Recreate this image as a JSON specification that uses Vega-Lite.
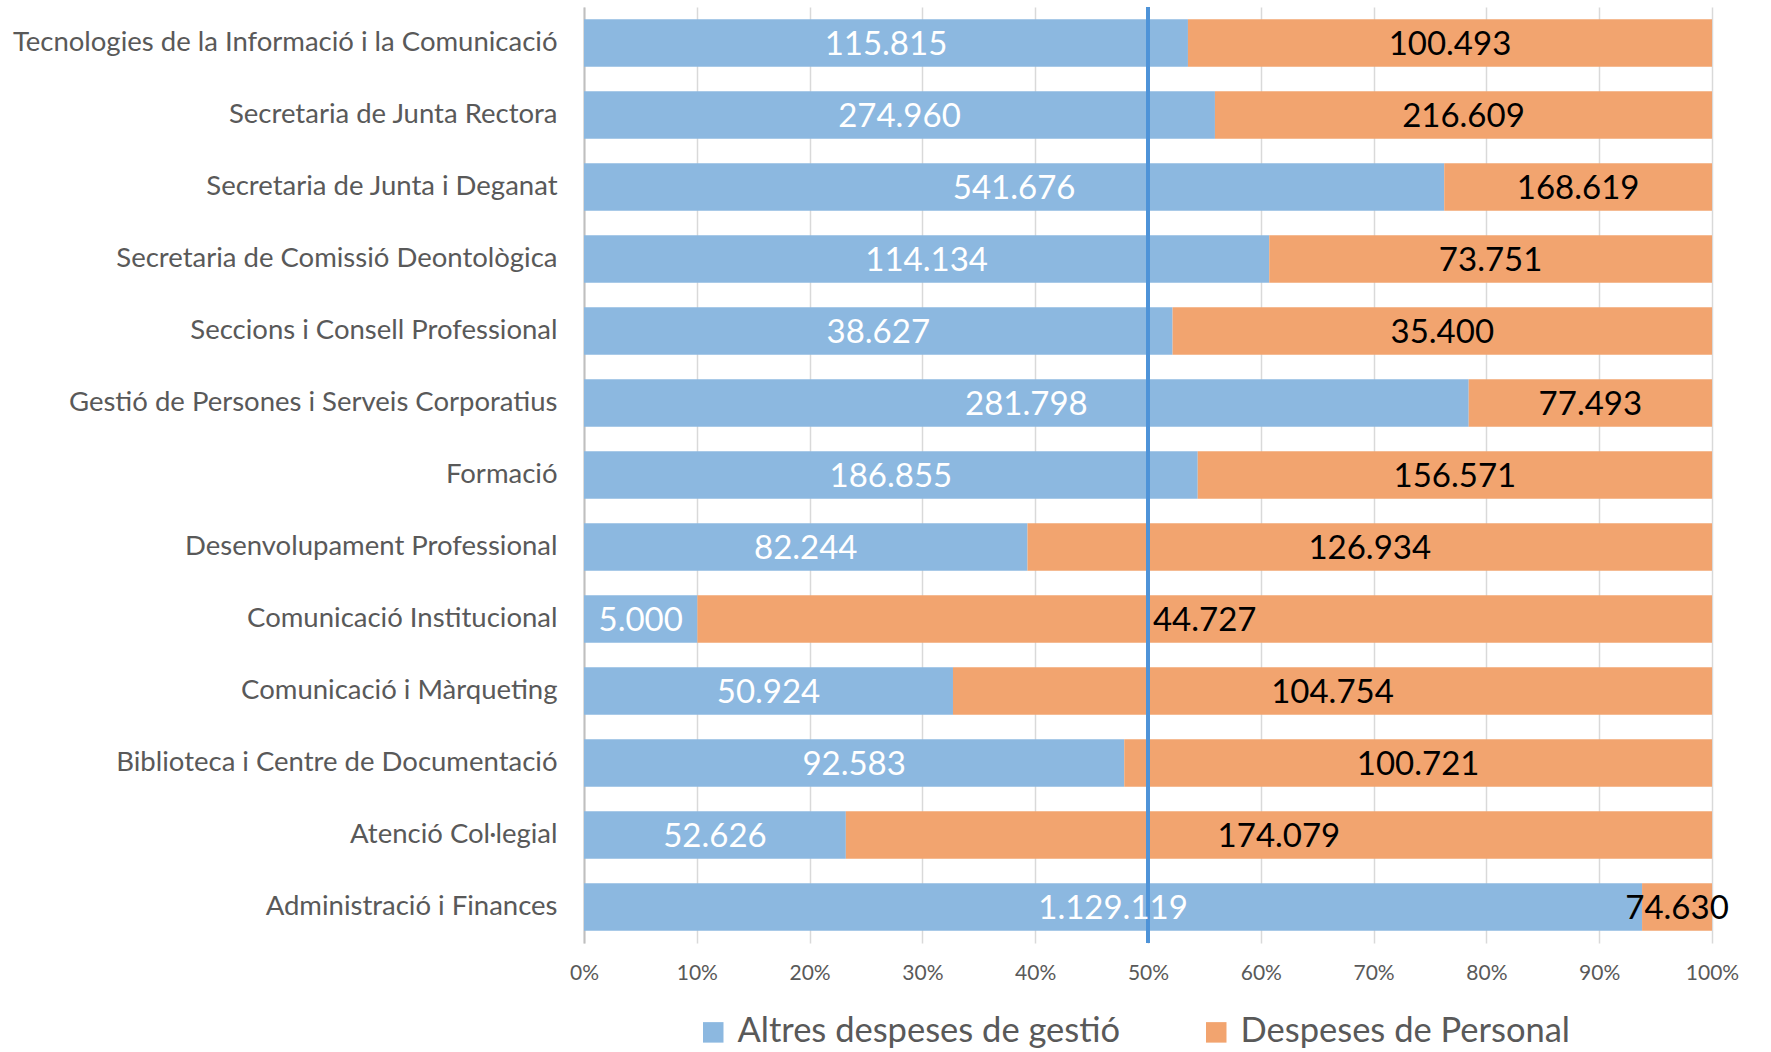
{
  "$schema": "https://vega.github.io/schema/vega-lite/v6.json",
  "autosize": {"type": "none"},
  "padding": {"left": 584, "top": 7, "right": 59, "bottom": 109},
  "width": 1128,
  "height": 936,
  "background": "white",
  "config": {
    "locale": {"number": {"decimal": ",", "thousands": ".", "grouping": [3], "currency": ["", " €"]}},
    "view": {"stroke": null},
    "font": "Lato"
  },
  "data": {"values": [
    {"dept": "Tecnologies de la Informació i la Comunicació", "serie": "Altres despeses de gestió", "value": 115815},
    {"dept": "Tecnologies de la Informació i la Comunicació", "serie": "Despeses de Personal", "value": 100493},
    {"dept": "Secretaria de Junta Rectora", "serie": "Altres despeses de gestió", "value": 274960},
    {"dept": "Secretaria de Junta Rectora", "serie": "Despeses de Personal", "value": 216609},
    {"dept": "Secretaria de Junta i Deganat", "serie": "Altres despeses de gestió", "value": 541676},
    {"dept": "Secretaria de Junta i Deganat", "serie": "Despeses de Personal", "value": 168619},
    {"dept": "Secretaria de Comissió Deontològica", "serie": "Altres despeses de gestió", "value": 114134},
    {"dept": "Secretaria de Comissió Deontològica", "serie": "Despeses de Personal", "value": 73751},
    {"dept": "Seccions i Consell Professional", "serie": "Altres despeses de gestió", "value": 38627},
    {"dept": "Seccions i Consell Professional", "serie": "Despeses de Personal", "value": 35400},
    {"dept": "Gestió de Persones i Serveis Corporatius", "serie": "Altres despeses de gestió", "value": 281798},
    {"dept": "Gestió de Persones i Serveis Corporatius", "serie": "Despeses de Personal", "value": 77493},
    {"dept": "Formació", "serie": "Altres despeses de gestió", "value": 186855},
    {"dept": "Formació", "serie": "Despeses de Personal", "value": 156571},
    {"dept": "Desenvolupament Professional", "serie": "Altres despeses de gestió", "value": 82244},
    {"dept": "Desenvolupament Professional", "serie": "Despeses de Personal", "value": 126934},
    {"dept": "Comunicació Institucional", "serie": "Altres despeses de gestió", "value": 5000},
    {"dept": "Comunicació Institucional", "serie": "Despeses de Personal", "value": 44727},
    {"dept": "Comunicació i Màrqueting", "serie": "Altres despeses de gestió", "value": 50924},
    {"dept": "Comunicació i Màrqueting", "serie": "Despeses de Personal", "value": 104754},
    {"dept": "Biblioteca i Centre de Documentació", "serie": "Altres despeses de gestió", "value": 92583},
    {"dept": "Biblioteca i Centre de Documentació", "serie": "Despeses de Personal", "value": 100721},
    {"dept": "Atenció Col·legial", "serie": "Altres despeses de gestió", "value": 52626},
    {"dept": "Atenció Col·legial", "serie": "Despeses de Personal", "value": 174079},
    {"dept": "Administració i Finances", "serie": "Altres despeses de gestió", "value": 1129119},
    {"dept": "Administració i Finances", "serie": "Despeses de Personal", "value": 74630}
  ]},
  "transform": [
    {"stack": "value", "groupby": ["dept"], "offset": "normalize", "sort": [{"field": "serie", "order": "ascending"}], "as": ["x0", "x1"]},
    {"calculate": "(datum.x0 + datum.x1) / 2", "as": "xmid"}
  ],
  "encoding": {
    "y": {
      "field": "dept", "type": "nominal", "sort": null,
      "scale": {"paddingInner": 0.34, "paddingOuter": 0.17},
      "axis": {
        "title": null, "ticks": false, "domainColor": "#BFBFBF", "domainWidth": 2,
        "labelFont": "Lato", "labelFontSize": 27.5, "labelColor": "#595959", "labelPadding": 27, "labelLimit": 700
      }
    }
  },
  "layer": [
    {
      "mark": {"type": "bar"},
      "encoding": {
        "x": {
          "field": "x0", "type": "quantitative",
          "scale": {"domain": [0, 1], "nice": false},
          "axis": {
            "title": null, "format": ".0%", "values": [0, 0.1, 0.2, 0.3, 0.4, 0.5, 0.6, 0.7, 0.8, 0.9, 1],
            "domain": false, "ticks": false, "grid": true, "gridColor": "#D9D9D9", "gridWidth": 1.5,
            "labelFlush": false, "labelOverlap": false,
            "labelFont": "Lato", "labelFontSize": 21, "labelColor": "#595959", "labelPadding": 19
          }
        },
        "x2": {"field": "x1"},
        "color": {
          "field": "serie", "type": "nominal",
          "scale": {"domain": ["Altres despeses de gestió", "Despeses de Personal"], "range": ["#8CB8E0", "#F2A46F"]},
          "legend": {
            "title": null, "orient": "none", "legendX": 112, "legendY": 1008, "direction": "horizontal",
            "symbolType": "square", "symbolSize": 420, "symbolStrokeWidth": 0, "symbolOpacity": 1,
            "labelFont": "Lato", "labelFontSize": 34.5, "labelColor": "#595959", "labelOffset": 7, "labelLimit": 800,
            "columnPadding": 78
          }
        }
      }
    },
    {
      "mark": {"type": "rule", "color": "#4F93D8", "strokeWidth": 3},
      "encoding": {"x": {"datum": 0.5}, "y": null}
    },
    {
      "mark": {"type": "text", "font": "Lato", "fontSize": 33, "align": "center", "baseline": "middle", "dy": 2},
      "encoding": {
        "x": {"field": "xmid", "type": "quantitative"},
        "text": {"field": "value", "type": "quantitative", "format": ",d"},
        "color": {"condition": {"test": "datum.serie == 'Altres despeses de gestió'", "value": "white"}, "value": "black"}
      }
    }
  ]
}
